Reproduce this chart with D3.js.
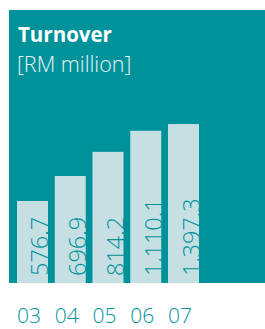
<!DOCTYPE html>
<html><head><meta charset="utf-8">
<script src="https://cdn.jsdelivr.net/npm/d3@7"></script>
<style>html,body{margin:0;padding:0;background:#fff;}svg{display:block;}</style>
</head><body>
<script>
const years = ["03","04","05","06","07"];
const turnover = [576.7, 696.9, 814.2, 1110.1, 1397.3];
const valueLabels = ["576.7","696.9","814.2","1,110.1","1,397.3"];
// broken (non-uniform) value axis used by the original graphic
const scaleBreaks = [0, 600, 800, 1100, 1400];
const scaleBreakFrac = [0, 0.3256, 0.4966, 0.5802, 0.6069];

const W = 265, H = 329;
const teal = "#00929b", barFill = "#c5dfe3";
const panel = {x: 9, y: 10, w: 256, h: 273};
const plotH = 262;
const svg = d3.select("body").append("svg").attr("width", W).attr("height", H);
svg.append("rect").attr("x", panel.x).attr("y", panel.y).attr("width", panel.w).attr("height", panel.h).attr("fill", teal);

const x = d3.scaleBand().domain(years).range([17, 199]).paddingInner(0.179).paddingOuter(0);
const bottom = panel.y + panel.h;
const y = d3.scaleLinear().domain(scaleBreaks).range(scaleBreakFrac.map(f => bottom - f * plotH));

const g = svg.append("g");
g.selectAll("rect.bar").data(turnover).join("rect").attr("class","bar")
  .attr("x", (d,i) => x(years[i])).attr("width", x.bandwidth())
  .attr("y", d => y(d)).attr("height", d => bottom - y(d)).attr("fill", barFill);

g.selectAll("text.val").data(turnover).join("text").attr("class","val")
  .attr("transform", (d,i) => `translate(${x(years[i]) + x.bandwidth() + 0.5},${bottom - 7}) rotate(-90)`)
  .attr("fill", teal).attr("font-family", "'Open Sans', sans-serif").attr("font-weight", 300)
  .attr("font-size", 23.5).text((d,i) => valueLabels[i]);

svg.selectAll("text.yr").data(years).join("text").attr("class","yr")
  .attr("x", d => x(d)).attr("y", 323).attr("fill", teal)
  .attr("font-family", "'Open Sans', sans-serif").attr("font-weight", 300).attr("font-size", 21)
  .text(d => d);

svg.append("text").attr("x", 18).attr("y", 42).attr("fill", "#fff")
  .attr("font-family", "'Open Sans', sans-serif").attr("font-weight", 700).attr("font-size", 20.5).text("Turnover");
svg.append("text").attr("x", 17).attr("y", 72).attr("fill", "#e8f4f5")
  .attr("font-family", "'Open Sans', sans-serif").attr("font-weight", 300).attr("font-size", 21.5).text("[RM million]");
</script>
</body></html>
